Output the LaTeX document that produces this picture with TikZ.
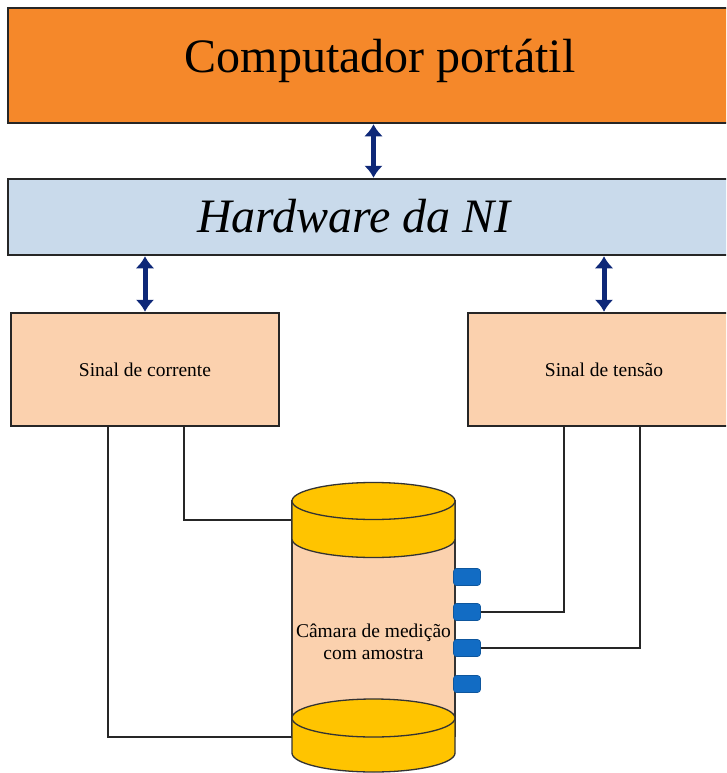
\documentclass[tikz,border=0pt]{standalone}
\usepackage{fontspec}
\setmainfont{Liberation Serif}
\usetikzlibrary{arrows.meta}

\definecolor{pcorange}{RGB}{245,136,42}
\definecolor{niblue}{RGB}{201,218,235}
\definecolor{peach}{RGB}{251,209,174}
\definecolor{gold}{RGB}{255,196,0}
\definecolor{navyblue}{RGB}{14,40,120}
\definecolor{portblue}{RGB}{18,108,196}

\tikzset{
  box/.style={draw=black!85,line width=2.5pt,inner sep=0pt},
  link/.style={navyblue,line width=5pt,
    {Latex[length=12pt,width=19pt]}-{Latex[length=12pt,width=19pt]}},
  wire/.style={black!85,line width=2pt},
  cyl/.style={draw=black!80,line width=1.3pt},
  port/.style={draw=portblue!80!black,fill=portblue,line width=0.6pt,
    minimum width=27pt,minimum height=17pt,rounded corners=3pt,inner sep=0pt},
  bigfont/.style={font=\fontsize{48}{56}\selectfont},
  bigitfont/.style={font=\fontsize{48}{56}\selectfont\itshape},
  smallfont/.style={font=\fontsize{19.5}{21.5}\selectfont},
}

\begin{document}
\begin{tikzpicture}[x=1pt,y=-1pt]
\useasboundingbox (0,0) rectangle (726,773);
\clip (0,0) rectangle (726,773);
%%
  \node (node_pc) at (373.5,65.5) [box,fill=pcorange,minimum width=731pt,minimum height=115pt] {};
  \node (node_ni) at (373.5,217) [box,fill=niblue,minimum width=731pt,minimum height=76pt] {};
  \node (node_i) at (145,369.5) [box,fill=peach,minimum width=268pt,minimum height=113pt,smallfont] {Sinal de corrente};
  \node (node_v) at (604,369.5) [box,fill=peach,minimum width=272pt,minimum height=113pt,smallfont] {Sinal de tensão};
  \node (txt_pc) at (380,73) [anchor=base,bigfont] {Computador portátil};
  \node (txt_ni) at (354,232) [anchor=base,bigitfont] {Hardware da NI};

  \draw [link] (node_pc) -- (node_ni);
  \draw [link] (node_ni.south -| node_i.north) -- (node_i.north);
  \draw [link] (node_ni.south -| node_v.north) -- (node_v.north);
%
  % wiring to the chamber
  \coordinate (cam_top) at (292,520);
  \coordinate (cam_bot) at (292,737);
  \draw [wire] ([xshift=-37pt]node_i.south) |- (cam_bot);
  \draw [wire] ([xshift=39pt]node_i.south) |- (cam_top);
  \draw [wire] ([xshift=-40pt]node_v.south) |- (467,612);
  \draw [wire] ([xshift=36pt]node_v.south) |- (467,648);
%
  % measuring chamber
  \filldraw [cyl,fill=peach] (292,501) rectangle (455,736);
  \filldraw [cyl,fill=gold] (292,501) -- (292,539)
    arc [start angle=180,end angle=360,x radius=81.5pt,y radius=18.5pt] -- (455,501) -- cycle;
  \filldraw [cyl,fill=gold] (373.5,501) ellipse [x radius=81.5pt,y radius=18.5pt];
  \filldraw [cyl,fill=gold] (292,718) -- (292,753)
    arc [start angle=180,end angle=360,x radius=81.5pt,y radius=19pt] -- (455,718) -- cycle;
  \filldraw [cyl,fill=gold] (373.5,718) ellipse [x radius=81.5pt,y radius=19pt];
  \node (node_cam) at (373.5,642) [align=center,smallfont] {Câmara de medição\\com amostra};

  \foreach \i/\y in {1/577,2/612,3/648,4/684}
    \node (port_\i) at (467,\y) [port] {};
%
\end{tikzpicture}
\end{document}
